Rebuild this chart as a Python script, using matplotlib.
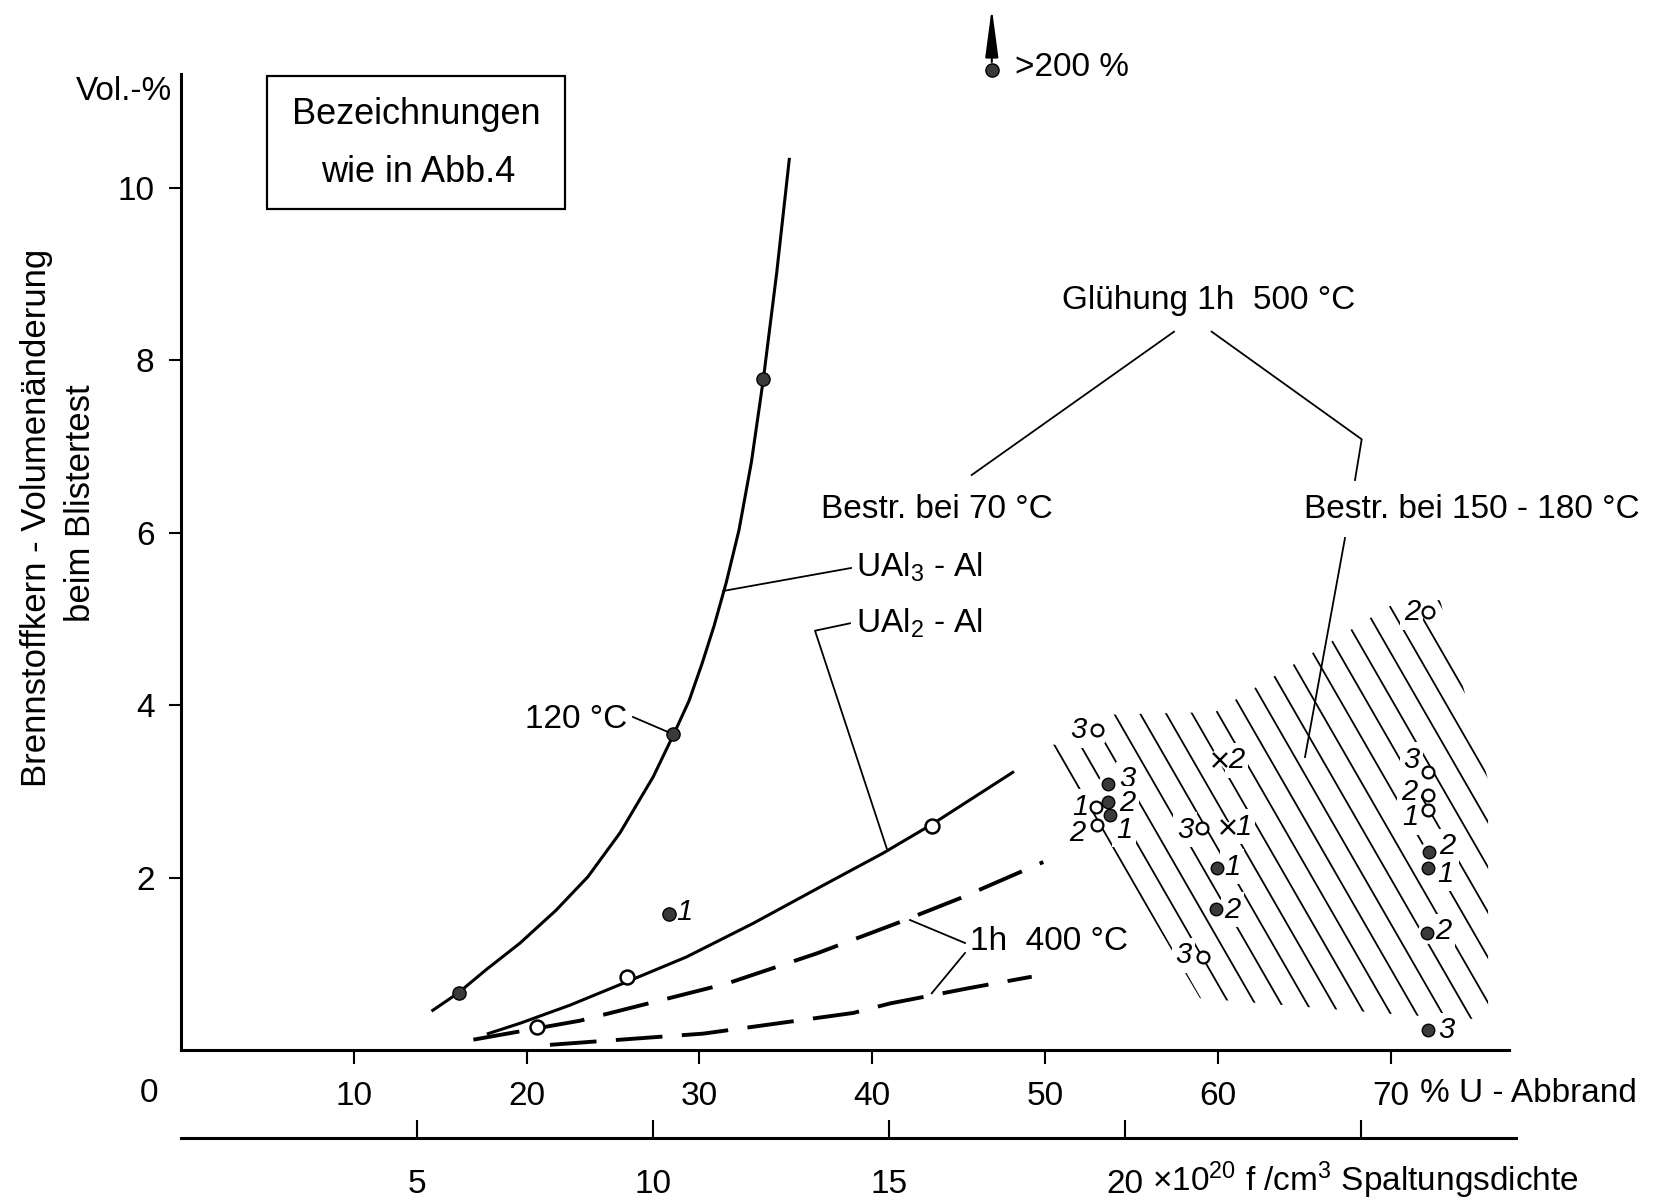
import numpy as np
import matplotlib
matplotlib.use('Agg')
import matplotlib.pyplot as plt
from matplotlib.transforms import Affine2D
from matplotlib.patches import Polygon, Rectangle
from matplotlib.collections import LineCollection
from matplotlib.lines import Line2D

# fonts
plt.rcParams['font.family'] = ['Liberation Sans', 'DejaVu Sans']
plt.rcParams['mathtext.fontset'] = 'custom'
plt.rcParams['mathtext.rm'] = 'Liberation Sans'
plt.rcParams['mathtext.it'] = 'Liberation Sans:italic'

# ---------------- data (x = % U-Abbrand, y = Vol.-%) ----------------
# UAl3-Al curve and its measured points
ual3_x = [14.57, 16.03, 17.65, 19.62, 21.70, 23.55, 25.41, 27.33, 28.53, 29.40, 30.15,
          30.85, 31.55, 32.29, 33.01, 33.70, 34.47, 35.20]
ual3_y = [0.46, 0.66, 0.93, 1.24, 1.62, 2.01, 2.52, 3.17, 3.67, 4.05, 4.48,
          4.92, 5.42, 6.03, 6.82, 7.78, 9.01, 10.33]
ual3_pts_x = [16.08, 28.48, 33.70]
ual3_pts_y = [0.66, 3.67, 7.78]

# UAl2-Al curve and its measured points
ual2_x = [17.78, 19.62, 22.51, 25.79, 29.26, 33.12, 36.98, 40.60, 43.48, 48.13]
ual2_y = [0.19, 0.31, 0.52, 0.79, 1.08, 1.47, 1.89, 2.28, 2.62, 3.22]
ual2_pts_x = [20.62, 25.83, 43.48]
ual2_pts_y = [0.27, 0.85, 2.60]

# 1h 400 degC dashed curves
dash_hi_x = [16.92, 23.09, 31.58, 36.79, 41.42, 45.08, 49.90]
dash_hi_y = [0.12, 0.34, 0.77, 1.12, 1.47, 1.76, 2.18]
dash_lo_x = [21.35, 30.23, 38.91, 41.03, 45.66, 49.23]
dash_lo_y = [0.06, 0.19, 0.43, 0.54, 0.72, 0.85]

# single points
single_x, single_y, single_lbl = [28.26], [1.58], ['1']
big_x, big_y = [46.92], [11.37]          # > 200 %

# points in the hatched field (annealed 1h 500 degC)
fill_x = [53.66, 53.66, 53.76, 59.94, 59.90, 72.24, 72.19, 72.09, 72.19]
fill_y = [3.09, 2.88, 2.73, 2.11, 1.64, 2.30, 2.11, 1.36, 0.23]
fill_lbl = ['3', '2', '1', '1', '2', '2', '1', '2', '3']
open_x = [52.99, 52.95, 52.99, 59.07, 59.16, 72.19, 72.19, 72.19, 72.19]
open_y = [3.71, 2.82, 2.61, 2.57, 1.08, 5.08, 3.22, 2.96, 2.78]
open_lbl = ['3', '1', '2', '3', '3', '2', '3', '2', '1']
cross_x = [60.13, 60.61]
cross_y = [3.36, 2.59]
cross_lbl = ['2', '1']

# outline of hatched field
region_x = [58.97, 50.29, 53.47, 53.76, 59.84, 69.97, 72.86, 75.64, 75.64, 70.54]
region_y = [0.60, 3.54, 3.56, 3.89, 3.92, 5.15, 5.22, 3.13, 0.35, 0.41]

# axis ticks
x_ticks = [10, 20, 30, 40, 50, 60, 70]
y_ticks = [2, 4, 6, 8, 10]
f_ticks = [5, 10, 15, 20, 25]
f_labels = ['5', '10', '15', '20', '']

# label offsets in points (layout only)
fill_off = [(14, 3), (14, -1), (10, -11), (11, 1), (12, -1), (13, 4), (12, -4), (12, 1), (13, 0)]
open_off = [(-13, 0), (-11, 0), (-14, -6), (-12, -1), (-14, 1), (-12, 0), (-12, 9), (-14, 2), (-13, -5)]
cross_off = [(12, 0), (11, 0)]

FS = 24      # main text size
FT = 24      # tick label size
FN = 21      # small point labels

# ---------------- figure ----------------
W, H = 1664, 1201
fig = plt.figure(figsize=(W / 100, H / 100), dpi=100)
pix = Affine2D().scale(1, -1).translate(0, H)   # pixel coords, origin top-left

ax = fig.add_axes([181 / W, (H - 1050) / H, 1328 / W, 976 / H])
ax.set_xlim(0, 76.85)
ax.set_ylim(0, 11.32)
for s in ['top', 'right']:
    ax.spines[s].set_visible(False)
for s in ['left', 'bottom']:
    ax.spines[s].set_linewidth(2.2)
ax.set_xticks(x_ticks)
ax.set_xticklabels([str(t) for t in x_ticks])
ax.set_yticks(y_ticks)
ax.set_yticklabels([str(t) for t in y_ticks])
ax.tick_params(axis='x', direction='out', length=10, width=1.5, pad=12, labelsize=FT)
ax.tick_params(axis='y', direction='out', length=9, width=1.5, pad=10, labelsize=FT)

# curves
ax.plot(ual3_x, ual3_y, '-', color='k', lw=2.2, zorder=3)
ax.plot(ual2_x, ual2_y, '-', color='k', lw=2.2, zorder=3)
ax.plot(dash_hi_x, dash_hi_y, color='k', lw=2.8, dashes=(12, 5), zorder=3)
ax.plot(dash_lo_x, dash_lo_y, color='k', lw=2.8, dashes=(12, 5), zorder=3)

ax.plot(ual3_pts_x, ual3_pts_y, 'o', ms=9.5, mfc='#3a3a3a', mec='k', mew=1, zorder=5)
ax.plot(ual2_pts_x, ual2_pts_y, 'o', ms=10, mfc='white', mec='k', mew=1.8, zorder=5)
ax.plot(single_x, single_y, 'o', ms=9.5, mfc='#3a3a3a', mec='k', mew=1, zorder=5)
for x, y, t in zip(single_x, single_y, single_lbl):
    ax.annotate(t, (x, y), xytext=(11, 1), textcoords='offset points',
                ha='center', va='center', fontsize=FN, style='italic')
ax.plot(big_x, big_y, 'o', ms=9.5, mfc='#3a3a3a', mec='k', mew=1, zorder=5, clip_on=False)

# hatched field: parallel lines clipped to the outline
reg = np.column_stack([region_x, region_y])
clip = Polygon(reg, closed=True, transform=ax.transData, fc='none', ec='none')
ax.add_patch(clip)
reg_d = ax.transData.transform(reg)
ang = np.deg2rad(-60.1)
d = np.array([np.cos(ang), np.sin(ang)])
n = np.array([-d[1], d[0]])
proj = reg_d @ n
base = reg_d[0]
step = 22.5
k0 = int(np.floor((proj.min() - base @ n) / step)) - 1
k1 = int(np.ceil((proj.max() - base @ n) / step)) + 1
inv = ax.transData.inverted()
segs = []
for k in range(k0, k1 + 1):
    p = base + k * step * n
    seg = np.array([p - 1200 * d, p + 1200 * d])
    segs.append(inv.transform(seg))
lc = LineCollection(segs, colors='k', linewidths=1.3, zorder=2)
lc.set_clip_path(clip)
ax.add_collection(lc)

lbox = dict(boxstyle='square,pad=0.12', fc='white', ec='none')
ax.plot(fill_x, fill_y, 'o', ms=14, color='white', zorder=4)
ax.plot(fill_x, fill_y, 'o', ms=9, mfc='#3a3a3a', mec='k', mew=1, zorder=6)
ax.plot(open_x, open_y, 'o', ms=8.5, mfc='white', mec='k', mew=1.6, zorder=6)
ax.plot(cross_x, cross_y, 'x', ms=11, color='white', mew=5, zorder=4)
ax.plot(cross_x, cross_y, 'x', ms=10, color='k', mew=1.7, zorder=6)
for xs, ys, lbls, offs in [(fill_x, fill_y, fill_lbl, fill_off),
                           (open_x, open_y, open_lbl, open_off),
                           (cross_x, cross_y, cross_lbl, cross_off)]:
    for x, y, t, o in zip(xs, ys, lbls, offs):
        ax.annotate(t, (x, y), xytext=o, textcoords='offset points', ha='center',
                    va='center', fontsize=FN, style='italic', bbox=lbox, zorder=5)

# second axis: fission density
ax2 = fig.add_axes([181 / W, (H - 1138) / H, 1335 / W, 0.0001])
ax2.set_xlim(0, 1335 / 47.2)
for s in ['top', 'right', 'left']:
    ax2.spines[s].set_visible(False)
ax2.spines['bottom'].set_linewidth(2.2)
ax2.set_yticks([])
ax2.set_xticks(f_ticks)
ax2.set_xticklabels(f_labels)
ax2.tick_params(axis='x', direction='in', length=13, width=1.5, pad=22, labelsize=FT)
ax2.patch.set_visible(False)

# ---------------- texts ----------------
def txt(x, y, s, **kw):
    kw.setdefault('fontsize', FS)
    kw.setdefault('va', 'center')
    fig.text(x, y, s, transform=pix, **kw)

def lead(xs, ys):
    fig.add_artist(Line2D(xs, ys, transform=pix, color='k', lw=1.3))

txt(172, 92, 'Vol.-%', ha='right')
fig.add_artist(Rectangle((267, 76), 297.5, 133, transform=pix, fill=False, ec='k', lw=1.6))
txt(416, 115, 'Bezeichnungen', ha='center', fontsize=26)
txt(418, 172, 'wie in Abb.4', ha='center', fontsize=26)
txt(37, 518, 'Brennstoffkern - Volumenänderung', ha='center', rotation=90, fontsize=25)
txt(80, 503, 'beim Blistertest', ha='center', rotation=90, fontsize=25)

txt(149, 1093, '0', ha='center', fontsize=FT)
txt(1420, 1093, '% U - Abbrand', ha='left', fontsize=FT)
txt(1152, 1180, r'×$\mathregular{10^{20}}$ f /cm$^{3}$ Spaltungsdichte', ha='left', fontsize=FT)

txt(1015, 68, '>200 %', ha='left')
ax.annotate('', xy=(991.8, 8), xycoords=pix, xytext=(991.8, 62), textcoords=pix,
            arrowprops=dict(arrowstyle='-|>,head_length=3.0,head_width=0.4',
                            lw=1.5, color='k', shrinkA=0, shrinkB=0))

txt(1209, 300, 'Glühung 1h  500 °C', ha='center')
txt(937, 509, 'Bestr. bei 70 °C', ha='center')
txt(1472, 509, 'Bestr. bei 150 - 180 °C', ha='center')
txt(856, 567, r'UAl$_3$ - Al', ha='left')
txt(856, 623, r'UAl$_2$ - Al', ha='left')
txt(627, 720, '120 °C', ha='right')
txt(970, 942, '1h  400 °C', ha='left')

lead([723, 851], [591, 568])
lead([886.7, 815, 850], [848.3, 630.7, 623.3])
lead([633, 668], [717, 732])
lead([965, 910], [943, 920])
lead([965, 931.7], [953, 993.3])
lead([1174, 971.7], [331.7, 475])
lead([1211.7, 1361.7, 1355], [331.7, 439.3, 480])
lead([1345, 1305], [538, 757])

fig.savefig('out.png', dpi=100)
